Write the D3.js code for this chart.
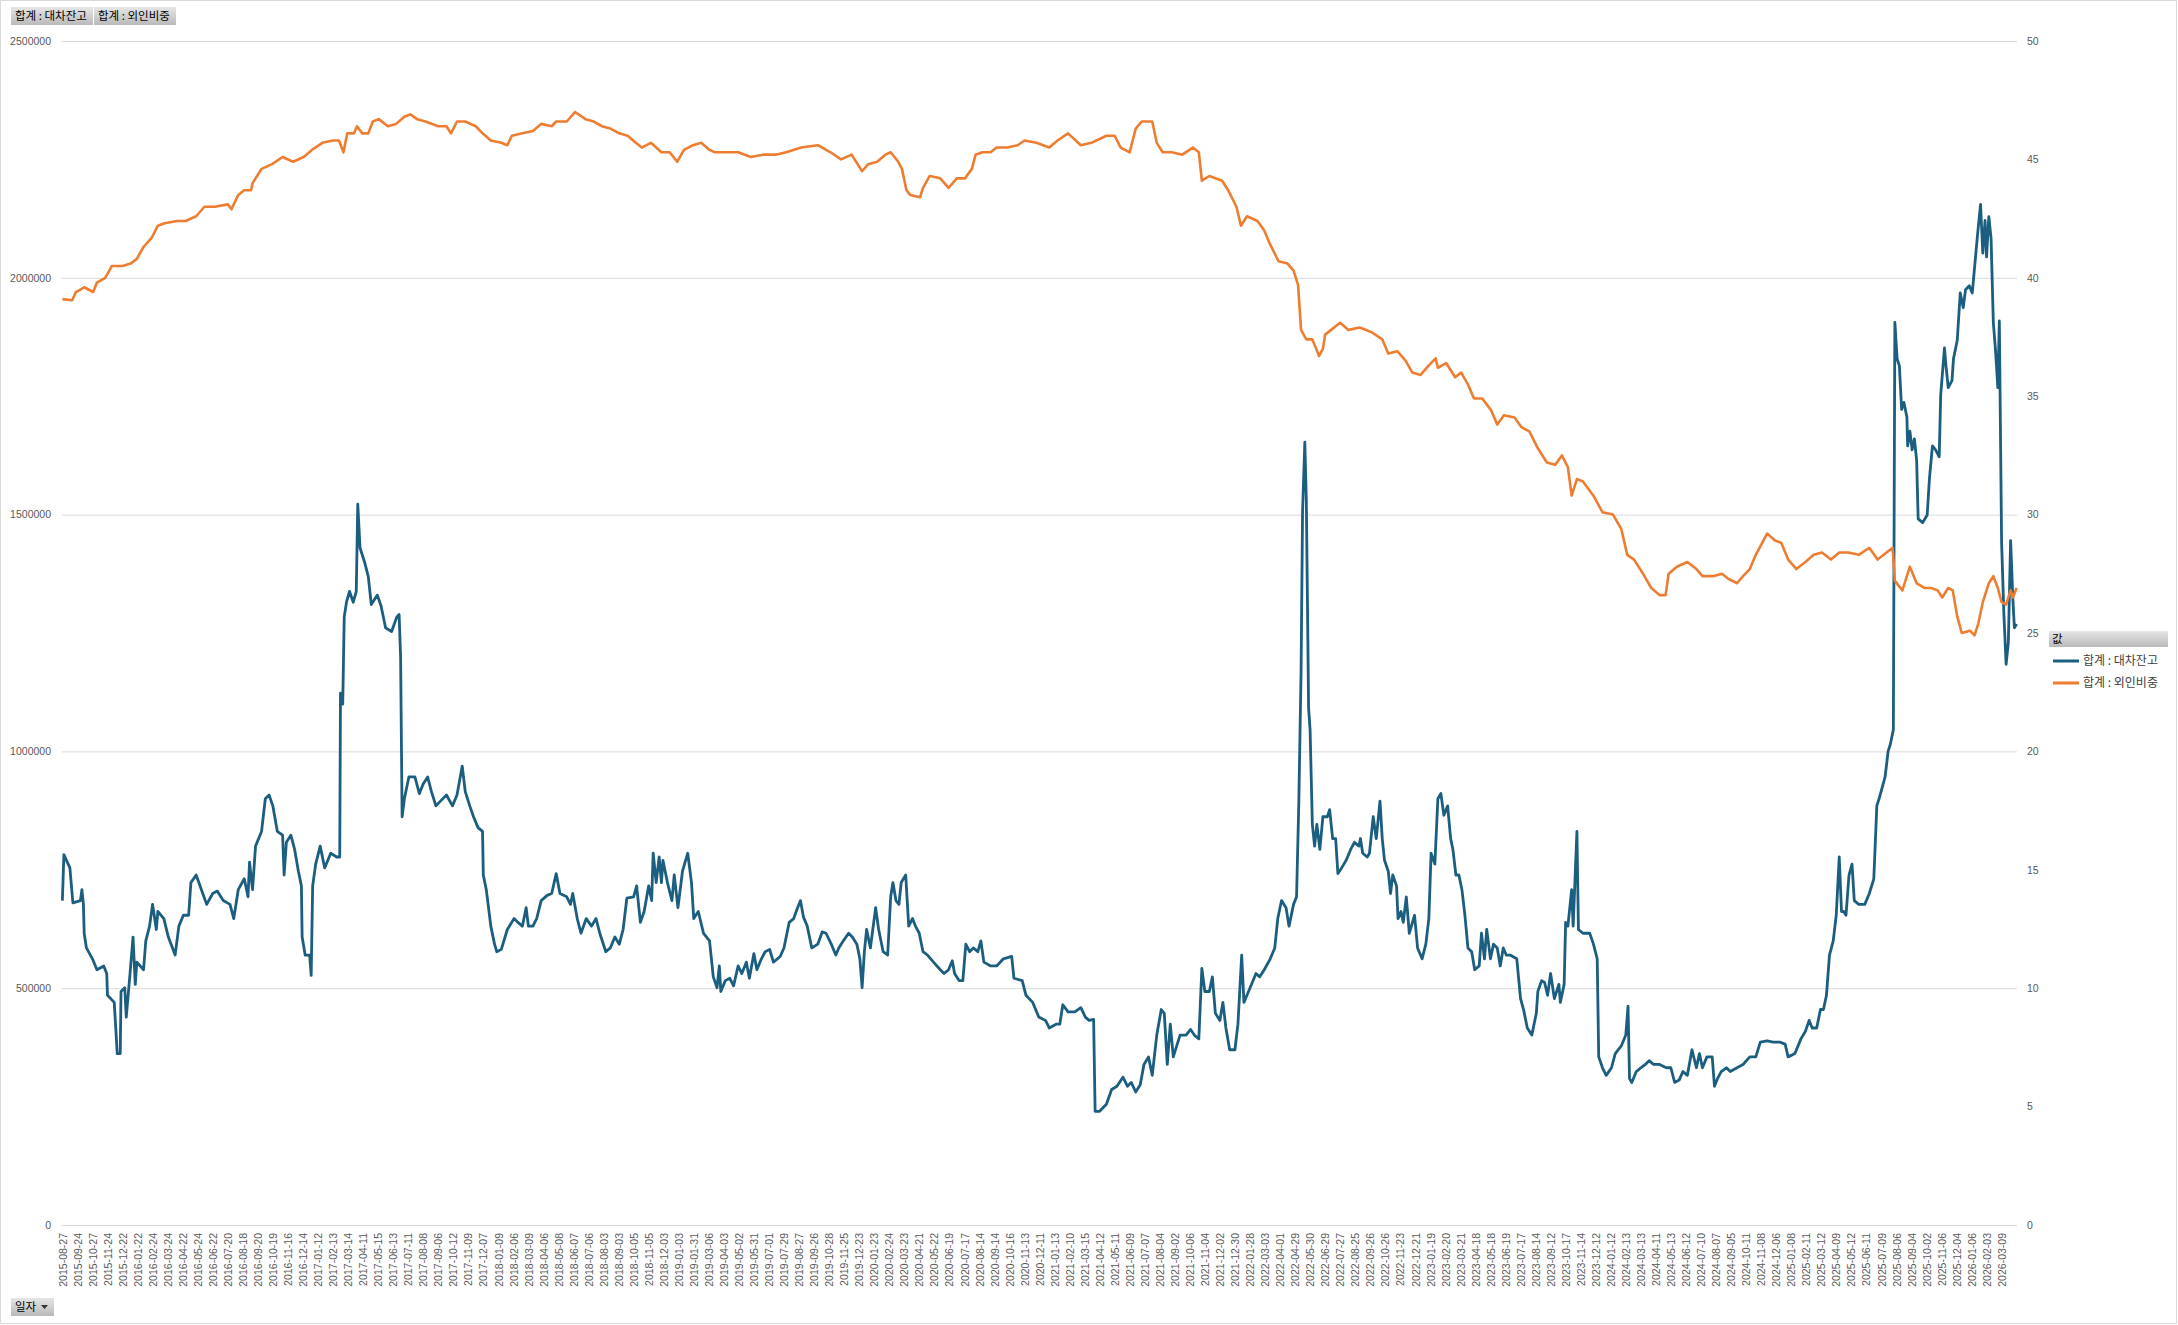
<!DOCTYPE html>
<html>
<head>
<meta charset="UTF-8">
<title>대차잔고 / 외인비중</title>
<script src="https://cdn.jsdelivr.net/npm/d3@7"></script>
<style>
  body { margin: 0; background: #fff; }
  text { font-family: "Liberation Sans", Arial, sans-serif; }
  .kr { font-family: "Noto Sans CJK KR", sans-serif; }
</style>
</head>
<body>
<svg id="chart" width="2178" height="1325"></svg>
<script>
// category labels shown on the x axis (every 20th trading day)
var tickLabels = [
  "2015-08-27","2015-09-24","2015-10-27","2015-11-24","2015-12-22",
  "2016-01-22","2016-02-24","2016-03-24","2016-04-22","2016-05-24","2016-06-22","2016-07-20","2016-08-18","2016-09-20","2016-10-19","2016-11-16","2016-12-14",
  "2017-01-12","2017-02-13","2017-03-14","2017-04-11","2017-05-15","2017-06-13","2017-07-11","2017-08-08","2017-09-06","2017-10-12","2017-11-09","2017-12-07",
  "2018-01-09","2018-02-06","2018-03-09","2018-04-06","2018-05-08","2018-06-07","2018-07-06","2018-08-03","2018-09-03","2018-10-05","2018-11-05","2018-12-03",
  "2019-01-03","2019-01-31","2019-03-06","2019-04-03","2019-05-02","2019-05-31","2019-07-01","2019-07-29","2019-08-27","2019-09-26","2019-10-28","2019-11-25","2019-12-23",
  "2020-01-23","2020-02-24","2020-03-23","2020-04-21","2020-05-22","2020-06-19","2020-07-17","2020-08-14","2020-09-14","2020-10-16","2020-11-13","2020-12-11",
  "2021-01-13","2021-02-10","2021-03-15","2021-04-12","2021-05-11","2021-06-09","2021-07-07","2021-08-04","2021-09-02","2021-10-06","2021-11-04","2021-12-02","2021-12-30",
  "2022-01-28","2022-03-03","2022-04-01","2022-04-29","2022-05-30","2022-06-29","2022-07-27","2022-08-25","2022-09-26","2022-10-26","2022-11-23","2022-12-21",
  "2023-01-19","2023-02-20","2023-03-21","2023-04-18","2023-05-18","2023-06-19","2023-07-17","2023-08-14","2023-09-12","2023-10-17","2023-11-14","2023-12-12",
  "2024-01-12","2024-02-13","2024-03-13","2024-04-11","2024-05-13","2024-06-12","2024-07-10","2024-08-07","2024-09-05","2024-10-11","2024-11-08","2024-12-06",
  "2025-01-08","2025-02-11","2025-03-12","2025-04-09","2025-05-12","2025-06-11","2025-07-09","2025-08-06","2025-09-04","2025-10-02","2025-11-06","2025-12-04",
  "2026-01-06","2026-02-03","2026-03-09"
];
var tickStep = 20;          // trading days between labels
var dayCount = 2601;        // trading days on the category axis

var leftTicks = [0, 500000, 1000000, 1500000, 2000000, 2500000];
var rightTicks = [0, 5, 10, 15, 20, 25, 30, 35, 40, 45, 50];

// 합계 : 대차잔고 (trading-day index, value)
var balanceDay = [0,2,10,14,24,26,28,29,32,40,46,55,59,60,69,73,77,78,83,85,90,94,97,99,108,111,116,120,125,127,135,141,150,155,161,168,171,178,185,192,200,206,214,223,228,234,242,247,249,253,257,265,270,275,280,286,293,295,298,304,309,314,318,319,323,329,331,333,337,343,349,357,365,369,
  370,373,375,378,382,387,391,393,396,402,407,411,419,424,430,438,445,448,450,452,455,461,469,475,480,486,491,497,503,511,519,525,532,536,542,547,553,559,560,564,570,575,578,584,592,601,606,612,617,620,626,631,637,645,651,657,662,671,676,679,685,690,697,704,710,715,723,729,735,741,746,751,760,764,769,774,780,784,786,790,794,797,799,805,811,814,819,825,832,837,840,846,853,861,
  866,871,874,876,882,888,893,899,904,910,914,920,924,930,935,941,946,955,960,967,973,977,982,986,991,997,1005,1011,1016,1023,1029,1033,1039,1046,1051,1057,1061,1064,1067,1070,1075,1082,1086,1092,1098,1102,1105,1109,1113,1116,1122,1126,1131,1135,1140,1145,1151,1159,1168,1173,1179,1184,1187,1193,1198,1202,1207,1212,1218,1222,1226,1235,1243,1252,1263,1266,1277,1282,1291,1299,1308,1313,1322,1327,1331,1338,1347,1355,1361,1366,1372,
  1374,1380,1389,1396,1403,1411,1417,1422,1428,1434,1439,1445,1450,1456,1462,1466,1470,1474,1478,1487,1495,1501,1506,1512,1516,1520,1526,1530,1534,1540,1544,1548,1553,1560,1564,1569,1572,1576,1582,1588,1593,1599,1607,1613,1617,1622,1628,1632,1638,1642,1645,1648,1650,1653,1655,1658,1660,1663,1666,1669,1673,1677,1683,1686,1690,1694,1697,1702,1708,1714,1719,
  1725,1727,1730,1736,1739,1744,1748,1753,1756,1759,1764,1767,1770,1775,1777,1781,1784,1788,1792,1799,1803,1809,1814,1818,1821,1826,1830,1834,1838,1843,1847,1850,1854,1858,1862,1866,1870,1875,1879,1885,1888,1892,1895,1900,1904,1909,1913,1917,1921,1926,1935,1940,1944,1949,1955,1961,1963,1968,1972,1976,1980,1985,1991,1993,1998,2000,2003,2008,2010,2015,2017,2023,2032,2037,2042,
  2044,2049,2054,2061,2066,2074,2080,2083,2085,2088,2094,2100,2106,2111,2117,2125,2134,2140,2145,2151,2156,2162,2168,2174,2178,2182,2188,2195,2198,2202,2207,2214,2219,2228,2236,2245,2253,2259,2268,2276,2285,2292,2296,2305,2313,2319,2324,2328,2334,2339,2343,2347,2351,2356,2360,2364,2367,2370,2373,2377,2381,2384,2390,2398,2404,2410,2414,2417,2421,2425,2429,2432,2436,
  2438,2441,2444,2447,2450,2454,2455,2458,2461,2464,2467,2469,2475,2481,2484,2488,2492,2497,2499,2504,2506,2509,2514,2516,2521,2525,2529,2532,2537,2541,2544,2548,2552,2555,2558,2560,2563,2566,2569,2572,2575,2577,2580,2583,2586,2589,2592,2595,2597,2600];
var balance = [685000,782000,754000,680000,685000,708000,677000,616000,585000,562000,539000,547000,531000,485000,470000,362000,362000,493000,501000,439000,531000,608000,508000,555000,539000,600000,631000,677000,624000,662000,647000,608000,570000,631000,654000,654000,723000,739000,708000,677000,700000,705000,685000,677000,647000,708000,731000,693000,766000,708000,800000,831000,900000,908000,885000,831000,823000,739000,808000,823000,793000,747000,716000,608000,570000,570000,527000,716000,762000,800000,754000,785000,777000,777000,
  1123000,1100000,1284000,1315000,1338000,1315000,1338000,1522000,1430000,1400000,1369000,1310000,1330000,1307000,1261000,1253000,1284000,1289000,1200000,862000,900000,946000,946000,911000,931000,946000,915000,885000,895000,908000,885000,908000,969000,915000,885000,862000,839000,831000,739000,708000,631000,593000,577000,582000,624000,647000,639000,631000,670000,631000,631000,647000,685000,696000,700000,742000,700000,693000,677000,700000,647000,616000,647000,631000,647000,616000,577000,585000,608000,593000,624000,690000,693000,716000,639000,662000,716000,685000,785000,723000,777000,723000,770000,723000,685000,739000,670000,747000,785000,723000,647000,662000,616000,600000,
  524000,501000,547000,493000,516000,521000,505000,547000,531000,555000,521000,573000,539000,562000,577000,582000,555000,567000,585000,639000,647000,665000,685000,650000,631000,585000,593000,619000,616000,593000,570000,585000,600000,616000,608000,593000,562000,501000,577000,624000,585000,670000,624000,577000,570000,693000,723000,685000,677000,723000,739000,631000,647000,631000,616000,577000,570000,555000,539000,531000,539000,558000,531000,516000,516000,593000,577000,585000,577000,600000,555000,547000,547000,562000,567000,521000,516000,485000,470000,439000,432000,416000,424000,424000,465000,450000,450000,459000,439000,432000,434000,
  240000,240000,255000,286000,293000,312000,293000,301000,281000,296000,339000,355000,316000,401000,455000,447000,339000,424000,355000,401000,401000,413000,401000,393000,542000,493000,493000,524000,447000,432000,470000,416000,370000,370000,424000,570000,470000,485000,508000,531000,524000,539000,562000,585000,647000,685000,670000,631000,677000,693000,892000,1169000,1507000,1653000,1530000,1092000,1046000,846000,800000,846000,793000,862000,862000,877000,816000,816000,742000,754000,770000,793000,808000,
  800000,816000,785000,777000,785000,862000,816000,895000,816000,770000,747000,700000,739000,716000,647000,662000,639000,693000,616000,654000,585000,562000,593000,647000,785000,762000,900000,911000,865000,885000,816000,793000,739000,739000,708000,654000,585000,577000,539000,547000,616000,562000,624000,562000,593000,585000,547000,585000,570000,570000,562000,478000,455000,416000,401000,447000,493000,516000,512000,485000,531000,478000,508000,470000,508000,639000,631000,708000,631000,831000,624000,616000,616000,593000,562000,
  355000,332000,316000,332000,362000,378000,401000,462000,309000,301000,324000,332000,339000,347000,339000,339000,332000,332000,301000,306000,324000,316000,370000,332000,362000,332000,355000,355000,293000,309000,324000,332000,324000,332000,339000,355000,355000,386000,389000,386000,386000,382000,355000,362000,393000,409000,432000,416000,416000,455000,455000,485000,570000,600000,654000,777000,662000,662000,654000,739000,762000,685000,677000,677000,700000,731000,885000,900000,923000,946000,1000000,1015000,1046000,
  1906000,1829000,1814000,1722000,1737000,1706000,1645000,1676000,1637000,1660000,1614000,1491000,1483000,1499000,1576000,1645000,1637000,1622000,1753000,1852000,1814000,1768000,1783000,1829000,1868000,1968000,1937000,1975000,1983000,1968000,2021000,2091000,2155000,2052000,2121000,2044000,2129000,2083000,1906000,1845000,1768000,1909000,1442000,1292000,1184000,1230000,1445000,1322000,1261000,1269000];

// 합계 : 외인비중 (trading-day index, %)
var foreignDay = [0,13,18,29,41,46,57,66,80,91,99,108,119,127,136,153,164,178,189,203,220,225,234,242,251,253,265,279,293,307,321,332,346,360,368,374,379,388,392,399,407,413,421,433,444,455,463,472,483,500,511,517,525,536,550,559,570,584,592,598,612,626,637,651,657,671,682,696,707,718,729,741,752,763,771,783,797,808,818,827,839,850,861,
  868,876,888,899,916,932,949,963,983,1005,1022,1036,1050,1064,1072,1084,1095,1102,1112,1117,1123,1128,1141,1145,1154,1168,1179,1190,1201,1210,1215,1224,1235,1243,1257,1271,1280,1296,1313,1324,1338,1355,1369,1389,1400,1408,1420,1428,1436,1450,1456,1464,1476,1490,1504,1512,1516,1526,1543,1551,1562,1568,1576,1590,1599,1607,1618,1630,1638,1644,1648,1655,1663,1672,1677,1680,1688,1700,1711,1726,
  1742,1756,1764,1776,1787,1796,1807,1818,1827,1830,1841,1853,1861,1870,1878,1889,1901,1909,1918,1932,1941,1952,1963,1975,1986,1995,2003,2008,2015,2023,2037,2049,2063,2074,2082,2091,2103,2114,2125,2133,2137,2148,2162,2174,2182,2196,2208,2216,2228,2236,2245,2253,2268,2279,2287,2296,2307,2319,2330,2341,2353,2364,2376,2390,2404,2415,2427,2435,2438,2448,2452,2458,2467,2478,2486,2495,2501,2509,2515,2521,2527,2538,2544,2549,2555,2563,2569,2575,2580,2586,2592,2595,2600];
var foreignRatio = [39.1,39.05,39.4,39.6,39.4,39.8,40.0,40.5,40.5,40.6,40.8,41.3,41.7,42.2,42.3,42.4,42.4,42.6,43.0,43.0,43.1,42.9,43.5,43.7,43.7,44.0,44.6,44.8,45.1,44.9,45.1,45.4,45.7,45.8,45.8,45.3,46.1,46.1,46.4,46.1,46.1,46.6,46.7,46.4,46.5,46.8,46.9,46.7,46.6,46.4,46.4,46.1,46.6,46.6,46.4,46.1,45.8,45.7,45.6,46.0,46.1,46.2,46.5,46.4,46.6,46.6,47.0,46.7,46.6,46.4,46.3,46.1,46.0,45.7,45.5,45.7,45.3,45.3,44.9,45.4,45.6,45.7,45.4,
  45.3,45.3,45.3,45.3,45.1,45.2,45.2,45.3,45.5,45.6,45.3,45.0,45.2,44.5,44.8,44.9,45.2,45.3,44.9,44.6,43.7,43.5,43.4,43.8,44.3,44.2,43.8,44.2,44.2,44.6,45.2,45.3,45.3,45.5,45.5,45.6,45.8,45.7,45.5,45.8,46.1,45.6,45.7,46.0,46.0,45.5,45.3,46.3,46.6,46.6,45.7,45.3,45.3,45.2,45.5,45.3,44.1,44.3,44.1,43.7,43.0,42.2,42.6,42.4,42.0,41.4,40.7,40.6,40.3,39.7,37.8,37.4,37.4,36.7,37.0,37.6,37.8,38.1,37.8,37.9,
  37.7,37.4,36.8,36.9,36.5,36.0,35.9,36.3,36.6,36.2,36.4,35.8,36.0,35.5,34.9,34.9,34.4,33.8,34.2,34.1,33.7,33.5,32.8,32.2,32.1,32.5,32.0,30.8,31.5,31.4,30.8,30.1,30.0,29.4,28.3,28.1,27.5,26.9,26.6,26.6,27.5,27.8,28.0,27.7,27.4,27.4,27.5,27.3,27.1,27.4,27.7,28.3,29.2,28.9,28.8,28.1,27.7,28.0,28.3,28.4,28.1,28.4,28.4,28.3,28.6,28.1,28.4,28.6,27.2,26.8,27.2,27.8,27.1,26.9,26.9,26.8,26.5,26.9,26.8,25.7,25.0,25.1,24.9,25.4,26.3,27.1,27.4,26.9,26.3,26.2,26.8,26.5,26.9];

var balanceColor = "#1b5e80", foreignColor = "#ed7d31";

var svg = d3.select("#chart"),
    plot = {left: 62, right: 2017, top: 41, bottom: 1225};

// border of the chart area
svg.append("rect")
  .attr("x", 0.5).attr("y", 0.5).attr("width", 2176).attr("height", 1323)
  .attr("fill", "#fff").attr("stroke", "#d9d9d9");

var defs = svg.append("defs");
var grad = defs.append("linearGradient").attr("id", "btn").attr("x1", 0).attr("y1", 0).attr("x2", 0).attr("y2", 1);
grad.append("stop").attr("offset", "0%").attr("stop-color", "#e6e6e6");
grad.append("stop").attr("offset", "100%").attr("stop-color", "#b9b9b9");

var x = d3.scaleLinear().domain([-0.5, dayCount - 0.5]).range([plot.left, plot.right]);
var yL = d3.scaleLinear().domain([0, 2500000]).range([plot.bottom, plot.top]);
var yR = d3.scaleLinear().domain([0, 50]).range([plot.bottom, plot.top]);

// gridlines + left axis
var gl = svg.append("g")
  .attr("transform", "translate(" + plot.left + ",0)")
  .call(d3.axisLeft(yL).tickValues(leftTicks).tickFormat(d3.format("d"))
    .tickSize(-(plot.right - plot.left)).tickPadding(11));
gl.select(".domain").remove();
gl.selectAll("line").attr("stroke", "#d9d9d9");
gl.selectAll("text").attr("fill", "#595959").style("font-size", "10.5px");

// right axis
var gr = svg.append("g")
  .attr("transform", "translate(" + plot.right + ",0)")
  .call(d3.axisRight(yR).tickValues(rightTicks).tickSize(0).tickPadding(10));
gr.select(".domain").remove();
gr.selectAll("text").attr("fill", "#595959").style("font-size", "10.5px");

// category axis
var gx = svg.append("g")
  .attr("transform", "translate(0," + plot.bottom + ")")
  .call(d3.axisBottom(x)
    .tickValues(tickLabels.map(function(d, i) { return i * tickStep; }))
    .tickFormat(function(d) { return tickLabels[d / tickStep]; })
    .tickSize(0));
gx.select(".domain").remove();
gx.selectAll("text")
  .attr("transform", "rotate(-90)")
  .attr("text-anchor", "end")
  .attr("x", -8).attr("y", 0).attr("dy", "0.35em")
  .attr("fill", "#595959").style("font-size", "10.5px");

// series
var balanceData = balanceDay.map(function(d, i) { return {day: d, v: balance[i]}; });
var foreignData = foreignDay.map(function(d, i) { return {day: d, v: foreignRatio[i]}; });

svg.append("path").datum(balanceData)
  .attr("fill", "none").attr("stroke", balanceColor).attr("stroke-width", 2.8)
  .attr("stroke-linejoin", "round")
  .attr("d", d3.line().x(function(d) { return x(d.day); }).y(function(d) { return yL(d.v); }));

svg.append("path").datum(foreignData)
  .attr("fill", "none").attr("stroke", foreignColor).attr("stroke-width", 2.6)
  .attr("stroke-linejoin", "round")
  .attr("d", d3.line().x(function(d) { return x(d.day); }).y(function(d) { return yR(d.v); }));

// field buttons
function button(bx, by, bw, bh, label, arrow) {
  var g = svg.append("g").attr("transform", "translate(" + bx + "," + by + ")");
  g.append("rect").attr("width", bw).attr("height", bh).attr("fill", "url(#btn)");
  g.append("text").attr("class", "kr").attr("x", 4).attr("y", bh / 2).attr("dy", "0.36em")
    .style("font-size", "11.5px").attr("fill", "#000").text(label);
  if (arrow) {
    g.append("path").attr("d", "M" + (bw - 13) + "," + (bh / 2 - 2) + "l7,0l-3.5,4z").attr("fill", "#333");
  }
}
button(11, 7, 82, 18, "합계 : 대차잔고");
button(94, 7, 82, 18, "합계 : 외인비중");
button(11, 1298, 43, 18, "일자", true);

// legend
var lg = svg.append("g").attr("transform", "translate(2049,631)");
lg.append("rect").attr("width", 119).attr("height", 16).attr("fill", "url(#btn)");
lg.append("text").attr("class", "kr").attr("x", 3).attr("y", 8).attr("dy", "0.36em")
  .style("font-size", "11.5px").attr("fill", "#000").text("값");
[["합계 : 대차잔고", balanceColor], ["합계 : 외인비중", foreignColor]].forEach(function(it, i) {
  var yy = 30 + i * 22;
  lg.append("line").attr("x1", 4).attr("x2", 30).attr("y1", yy).attr("y2", yy)
    .attr("stroke", it[1]).attr("stroke-width", 3);
  lg.append("text").attr("class", "kr").attr("x", 34).attr("y", yy).attr("dy", "0.36em")
    .style("font-size", "12px").attr("fill", "#404040").text(it[0]);
});
</script>
</body>
</html>
